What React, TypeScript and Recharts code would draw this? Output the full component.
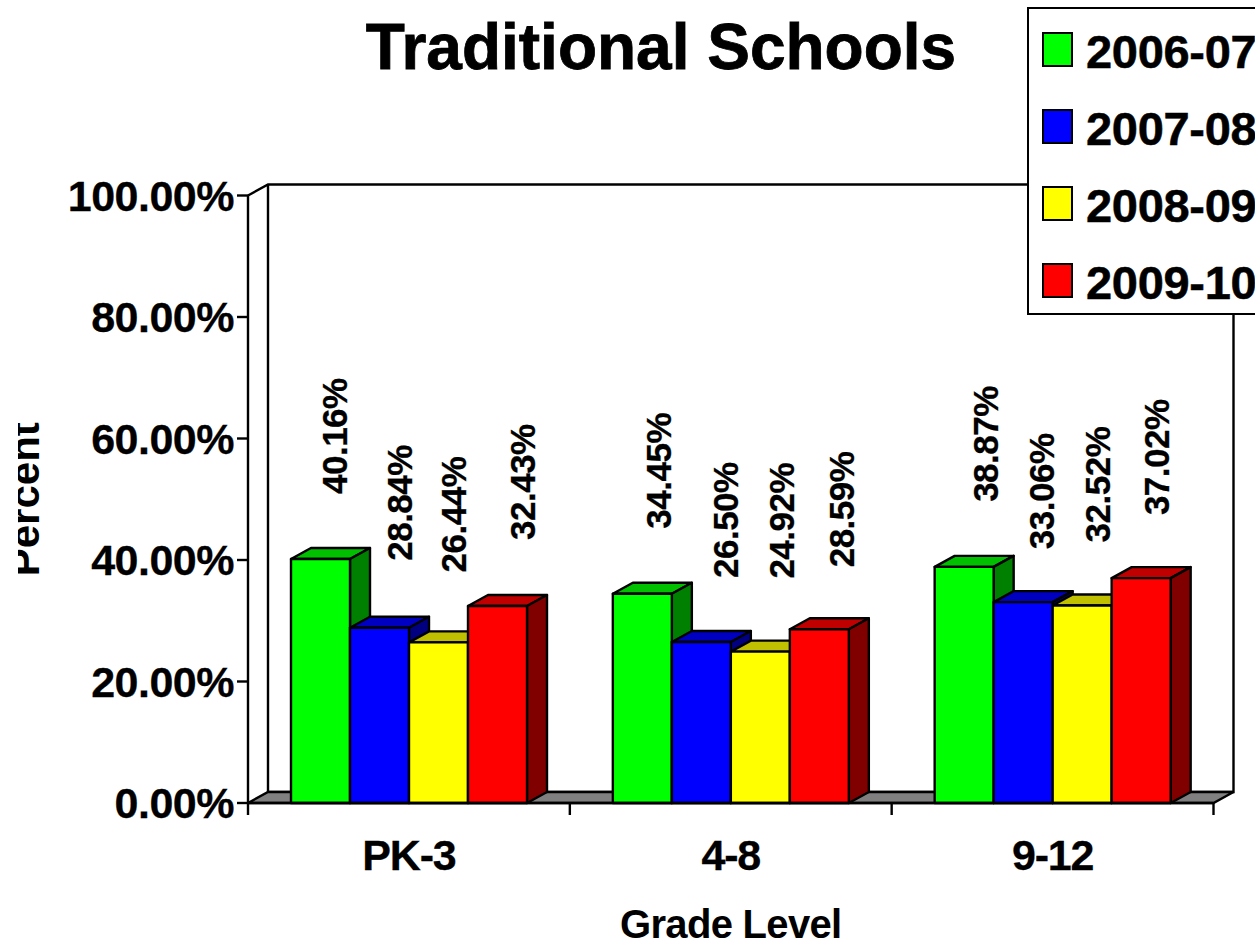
import { BarChart, Bar, XAxis, YAxis, Legend, LabelList, Label, ReferenceArea } from 'recharts';

const grades = ['PK-3', '4-8', '9-12'];
const y2006 = [40.16, 34.45, 38.87];
const y2007 = [28.84, 26.5, 33.06];
const y2008 = [26.44, 24.92, 32.52];
const y2009 = [32.43, 28.59, 37.02];
const percentTicks = [0, 20, 40, 60, 80, 100];

const rows = grades.map((grade, i) => ({
  grade,
  y2006: y2006[i],
  y2007: y2007[i],
  y2008: y2008[i],
  y2009: y2009[i],
}));

const FONT = '"Liberation Sans", Arial, sans-serif';
const DEPTH_X = 20;
const DEPTH_Y = 11;

// label placement is uneven in the original, so nudge per label: [dx from bar centre, gap above bar]
const nudge2006 = [[14, 65], [16, 65], [21, 65]];
const nudge2007 = [[20, 67], [24, 64], [18, 53]];
const nudge2008 = [[15, 70], [21, 73], [15, 63]];
const nudge2009 = [[25, 66], [22, 62], [15, 63]];

function Box3D(props: any) {
  const { x, y, width, height, fill, top, side } = props;
  const r = x + width;
  const b = y + height;
  return (
    <g stroke="#000" strokeWidth={2.4} strokeLinejoin="round">
      <path d={`M${x},${y} l${DEPTH_X},${-DEPTH_Y} h${width} l${-DEPTH_X},${DEPTH_Y} z`} fill={top} />
      <path d={`M${r},${y} l${DEPTH_X},${-DEPTH_Y} V${b - DEPTH_Y} l${-DEPTH_X},${DEPTH_Y} z`} fill={side} />
      <rect x={x} y={y} width={width} height={height} fill={fill} />
    </g>
  );
}

function Walls(props: any) {
  const { x, y, width, height } = props;
  const b = y + height;
  const r = x + width;
  const band = width / grades.length;
  return (
    <g stroke="#000" strokeWidth={2.4} fill="none">
      <path d={`M${x},${y} l${DEPTH_X},${-DEPTH_Y} H${r + DEPTH_X} V${b - DEPTH_Y} H${x + DEPTH_X} V${y - DEPTH_Y}`} fill="#fff" />
      <path d={`M${x},${b} l${DEPTH_X},${-DEPTH_Y} H${r + DEPTH_X} l${-DEPTH_X},${DEPTH_Y} z`} fill="#808080" />
      {[0, 1, 2, 3].map((i) => (
        <line key={i} x1={x + band * i} x2={x + band * i} y1={b} y2={b + 12} />
      ))}
    </g>
  );
}

function makeLabel(nudges: number[][]) {
  return function RotatedLabel(props: any) {
    const { x, y, width, value, index } = props;
    const [dx, gap] = nudges[index];
    return (
      <text
        transform={`translate(${x + width / 2 + dx},${y - gap}) rotate(-90)`}
        fontFamily={FONT}
        fontWeight="bold"
        fontSize={35}
        letterSpacing={-0.5}
        fill="#000"
        stroke="#000"
        strokeWidth={0.3}
        textAnchor="start"
        dominantBaseline="central"
      >
        {Number(value).toFixed(2)}%
      </text>
    );
  };
}

function PercentTitle(props: any) {
  const { viewBox } = props;
  const cy = viewBox.y + viewBox.height / 2;
  return (
    <g>
      <clipPath id="percent-clip">
        <rect x={18} y={cy - 120} width={40} height={240} />
      </clipPath>
      <g clipPath="url(#percent-clip)">
        <text
          transform={`translate(39,${cy}) rotate(-90)`}
          fontFamily={FONT}
          fontWeight="bold"
          fontSize={42}
          textAnchor="middle"
          fill="#000"
        >
          Percent
        </text>
      </g>
    </g>
  );
}

function LegendBox(props: any) {
  return (
    <div
      style={{
        boxSizing: 'border-box',
        width: 260,
        height: 308,
        background: '#fff',
        border: '2px solid #000',
        fontFamily: FONT,
        fontWeight: 'bold',
        fontSize: 47,
        letterSpacing: -0.3,
        WebkitTextStroke: '0.5px #000',
        color: '#000',
      }}
    >
      {props.payload.map((item: any, i: number) => (
        <div key={item.value} style={{ position: 'absolute', left: 15, top: 24 + i * 77, display: 'flex', alignItems: 'center', height: 36 }}>
          <span style={{ boxSizing: 'border-box', width: 31, height: 35, background: item.color, border: '2px solid #000', marginRight: 13 }} />
          <span style={{ lineHeight: '36px', position: 'relative', top: 3 }}>{item.value}</span>
        </div>
      ))}
    </div>
  );
}

export default function App() {
  return (
    <div style={{ position: 'absolute', left: 0, top: 0, width: 1255, height: 941, overflow: 'hidden', background: '#fff' }}>
      <div
        style={{
          position: 'absolute',
          left: 361,
          width: 600,
          top: 10,
          textAlign: 'center',
          fontFamily: FONT,
          fontWeight: 'bold',
          fontSize: 64,
          lineHeight: '74px',
          WebkitTextStroke: '0.8px #000',
          color: '#000',
        }}
      >
        Traditional Schools
      </div>
      <BarChart
        width={1255}
        height={941}
        data={rows}
        margin={{ top: 195.5, right: 41.5, bottom: 0, left: 0 }}
        barCategoryGap={43}
        barGap={0}
        style={{ position: 'absolute', left: 0, top: 0 }}
      >
        <ReferenceArea yAxisId={0} y1={0} y2={100} shape={Walls} />
        <XAxis
          dataKey="grade"
          height={138}
          tickLine={false}
          axisLine={{ stroke: '#000', strokeWidth: 2.4 }}
          tickMargin={30}
          tick={{ fill: '#000', stroke: '#000', strokeWidth: 0.3, fontFamily: FONT, fontWeight: 'bold', fontSize: 43, letterSpacing: -1.2 }}
        >
          <Label
            value="Grade Level"
            position="insideBottom"
            offset={3}
            fill="#000"
            fontFamily={FONT}
            fontWeight="bold"
            fontSize={40}
            letterSpacing={-0.7}
          />
        </XAxis>
        <YAxis
          width={248}
          domain={[0, 100]}
          ticks={percentTicks}
          interval={0}
          tickSize={11}
          tickMargin={3}
          tickFormatter={(v: number) => `${v.toFixed(2)}%`}
          axisLine={{ stroke: '#000', strokeWidth: 2.4 }}
          tickLine={{ stroke: '#000', strokeWidth: 2.4 }}
          tick={{ fill: '#000', stroke: '#000', strokeWidth: 0.3, fontFamily: FONT, fontWeight: 'bold', fontSize: 43, letterSpacing: -0.5 }}
        >
          <Label content={PercentTitle} />
        </YAxis>
        <Legend
          layout="horizontal"
          align="center"
          verticalAlign="middle"
          content={LegendBox}
          wrapperStyle={{ left: 1027, top: 7, width: 260, height: 308, bottom: 'auto', right: 'auto' }}
        />
        <Bar
          dataKey="y2006"
          name="2006-07"
          fill="#00ff00"
          isAnimationActive={false}
          shape={(p: any) => <Box3D {...p} top="#00c000" side="#008000" />}
        >
          <LabelList dataKey="y2006" content={makeLabel(nudge2006)} />
        </Bar>
        <Bar
          dataKey="y2007"
          name="2007-08"
          fill="#0000ff"
          isAnimationActive={false}
          shape={(p: any) => <Box3D {...p} top="#0000c0" side="#000080" />}
        >
          <LabelList dataKey="y2007" content={makeLabel(nudge2007)} />
        </Bar>
        <Bar
          dataKey="y2008"
          name="2008-09"
          fill="#ffff00"
          isAnimationActive={false}
          shape={(p: any) => <Box3D {...p} top="#c0c000" side="#808000" />}
        >
          <LabelList dataKey="y2008" content={makeLabel(nudge2008)} />
        </Bar>
        <Bar
          dataKey="y2009"
          name="2009-10"
          fill="#ff0000"
          isAnimationActive={false}
          shape={(p: any) => <Box3D {...p} top="#c00000" side="#800000" />}
        >
          <LabelList dataKey="y2009" content={makeLabel(nudge2009)} />
        </Bar>
      </BarChart>
    </div>
  );
}
